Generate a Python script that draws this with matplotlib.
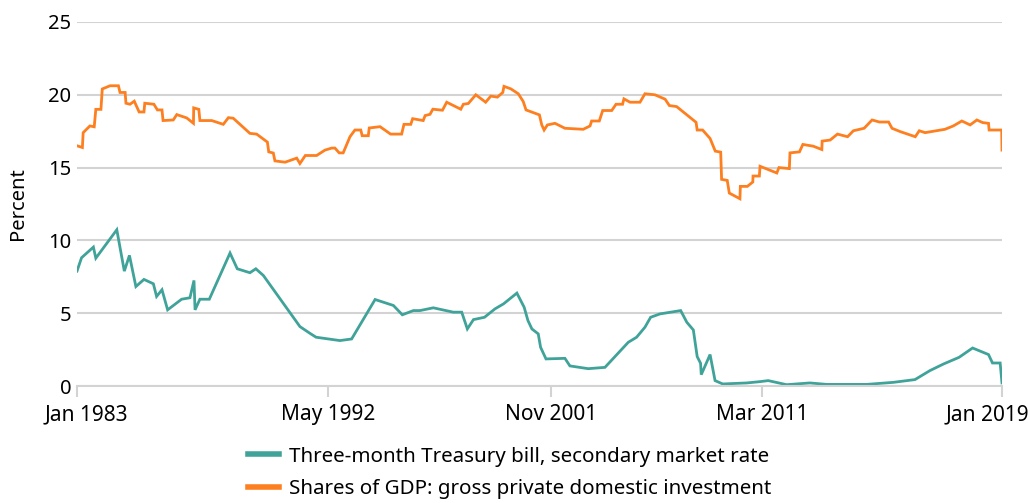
import numpy as np
import matplotlib.pyplot as plt
import matplotlib.transforms as mtransforms
from matplotlib.lines import Line2D

plt.rcParams['font.family'] = ['Noto Sans', 'DejaVu Sans']

# Shares of GDP: gross private domestic investment (decimal year, percent)
gdp_year = [1983.00, 1983.20, 1983.23, 1983.48, 1983.64, 1983.70, 1983.89, 1983.94,
            1984.23, 1984.54, 1984.60, 1984.79, 1984.82, 1984.97, 1985.13, 1985.31,
            1985.49, 1985.52, 1985.86, 1985.99, 1986.16, 1986.20, 1986.58, 1986.71,
            1987.08, 1987.33, 1987.34, 1987.53, 1987.57, 1988.01, 1988.44, 1988.63,
            1988.81, 1989.43, 1989.68, 1990.08, 1990.13, 1990.30, 1990.36, 1990.74,
            1991.17, 1991.29, 1991.49, 1991.91, 1992.22, 1992.49, 1992.63, 1992.81,
            1992.98, 1993.27, 1993.48, 1993.73, 1993.79, 1994.05, 1994.09, 1994.55,
            1995.00, 1995.47, 1995.57, 1995.86, 1995.94, 1996.39, 1996.47, 1996.68,
            1996.80, 1997.21, 1997.39, 1997.99, 1998.10, 1998.31, 1998.63, 1999.05,
            1999.27, 1999.55, 1999.78, 1999.83, 2000.12, 2000.44, 2000.65, 2000.77,
            2001.15, 2001.34, 2001.44, 2001.54, 2001.68, 2002.01, 2002.45, 2003.26,
            2003.56, 2003.63, 2003.97, 2004.12, 2004.52, 2004.71, 2005.00, 2005.06,
            2005.33, 2005.77, 2005.99, 2006.43, 2006.88, 2007.07, 2007.39, 2007.84,
            2008.25, 2008.30, 2008.54, 2008.87, 2009.10, 2009.34, 2009.38, 2009.63,
            2009.72, 2010.19, 2010.21, 2010.52, 2010.76, 2010.77, 2011.05, 2011.08,
            2011.65, 2011.72, 2012.06, 2012.08, 2012.39, 2012.50, 2012.84, 2013.12,
            2013.13, 2013.39, 2013.63, 2013.96, 2014.15, 2014.50, 2014.76, 2015.00,
            2015.30, 2015.41, 2015.68, 2016.17, 2016.30, 2016.49, 2017.14, 2017.41,
            2017.69, 2017.96, 2018.18, 2018.37, 2018.56, 2018.58, 2018.99, 2019.00]
gdp_val = [16.50, 16.38, 17.40, 17.86, 17.80, 19.00, 19.00, 20.40,
           20.62, 20.62, 20.16, 20.16, 19.42, 19.35, 19.56, 18.82,
           18.82, 19.42, 19.35, 18.96, 18.96, 18.23, 18.27, 18.64,
           18.41, 18.04, 19.10, 19.00, 18.23, 18.23, 17.97, 18.43,
           18.39, 17.35, 17.30, 16.75, 16.08, 16.00, 15.46, 15.37,
           15.65, 15.28, 15.83, 15.83, 16.20, 16.34, 16.34, 16.01,
           16.01, 17.12, 17.58, 17.58, 17.19, 17.19, 17.72, 17.81,
           17.30, 17.30, 17.97, 17.97, 18.36, 18.23, 18.57, 18.66,
           19.01, 18.94, 19.49, 19.01, 19.35, 19.40, 20.00, 19.49,
           19.91, 19.84, 20.16, 20.58, 20.41, 20.07, 19.54, 18.96,
           18.73, 18.62, 17.93, 17.58, 17.93, 18.04, 17.70, 17.63,
           17.86, 18.20, 18.20, 18.92, 18.92, 19.35, 19.35, 19.72,
           19.49, 19.49, 20.07, 20.00, 19.70, 19.26, 19.19, 18.62,
           18.11, 17.58, 17.58, 17.00, 16.13, 16.06, 14.19, 14.12,
           13.25, 12.86, 13.71, 13.71, 14.01, 14.42, 14.42, 15.09,
           14.63, 15.00, 14.93, 16.01, 16.08, 16.59, 16.47, 16.24,
           16.82, 16.89, 17.30, 17.12, 17.53, 17.70, 18.27, 18.13,
           18.13, 17.70, 17.47, 17.12, 17.53, 17.40, 17.63, 17.86,
           18.20, 17.93, 18.27, 18.09, 18.04, 17.58, 17.58, 16.20]

# Three-month Treasury bill, secondary market rate (decimal year, percent)
tbill_year = [1983.00, 1983.17, 1983.61, 1983.70, 1984.48, 1984.76, 1984.95, 1985.19,
              1985.49, 1985.84, 1985.96, 1986.16, 1986.37, 1986.89, 1987.20, 1987.35,
              1987.39, 1987.57, 1987.92, 1988.69, 1988.96, 1989.43, 1989.65, 1989.93,
              1991.29, 1991.66, 1991.89, 1992.84, 1993.34, 1994.34, 1995.12, 1995.50,
              1995.97, 1996.25, 1996.82, 1997.67, 1998.03, 1998.27, 1998.53, 1999.00,
              1999.45, 1999.81, 2000.38, 2000.69, 2000.85, 2001.02, 2001.29, 2001.39,
              2001.62, 2002.45, 2002.67, 2003.48, 2004.22, 2005.25, 2005.62, 2005.99,
              2006.24, 2006.65, 2007.57, 2007.84, 2008.13, 2008.30, 2008.45, 2008.48,
              2008.87, 2009.09, 2009.43, 2010.49, 2011.08, 2011.37, 2011.97, 2012.73,
              2013.28, 2014.58, 2015.45, 2016.16, 2016.65, 2017.09, 2017.60, 2018.04,
              2018.56, 2018.69, 2018.94, 2019.00]
tbill_val = [7.89, 8.81, 9.54, 8.78, 10.73, 7.89, 8.97, 6.83,
             7.32, 7.02, 6.15, 6.61, 5.23, 5.96, 6.06, 7.25,
             5.23, 5.96, 5.96, 9.13, 8.05, 7.78, 8.05, 7.59,
             4.08, 3.62, 3.35, 3.12, 3.23, 5.94, 5.53, 4.89,
             5.18, 5.18, 5.37, 5.07, 5.07, 3.92, 4.56, 4.72,
             5.30, 5.64, 6.38, 5.41, 4.50, 3.92, 3.58, 2.66,
             1.86, 1.90, 1.38, 1.19, 1.28, 3.00, 3.35, 4.04,
             4.72, 4.95, 5.18, 4.38, 3.85, 2.02, 1.56, 0.78,
             2.16, 0.37, 0.14, 0.21, 0.30, 0.37, 0.09, 0.21,
             0.11, 0.11, 0.25, 0.44, 1.06, 1.51, 1.97, 2.61,
             2.16, 1.58, 1.58, 0.21]

tick_years = [1983.0, 1992 + 4/12, 2001 + 10/12, 2011 + 2/12, 2019.0]
tick_labels = ['Jan 1983', 'May 1992', 'Nov 2001', 'Mar 2011', 'Jan 2019']
# the source axis is not linear in time; these are the tick spacings it uses
tick_spots = [0, 251, 474, 685, 925]

teal = '#40a399'
orange = '#fd7f1f'

fig = plt.figure(figsize=(10.28, 5.03), dpi=100)
ax = fig.add_axes([0.0749, 0.2326, 0.8998, 0.7237])

fwd = lambda x: np.interp(x, tick_years, tick_spots)
inv = lambda p: np.interp(p, tick_spots, tick_years)
ax.set_xscale('function', functions=(fwd, inv))

ax.plot(tbill_year, tbill_val, color=teal, lw=2.0, solid_joinstyle='miter')
ax.plot(gdp_year, gdp_val, color=orange, lw=2.0, solid_joinstyle='miter')

ax.set_xlim(tick_years[0], tick_years[-1])
ax.set_ylim(0, 25)
ax.set_yticks([0, 5, 10, 15, 20, 25])
ax.set_xticks(tick_years)
ax.set_xticklabels(tick_labels)
ax.yaxis.grid(True, color='#d3d3d3', lw=1.5)
ax.set_axisbelow(True)
for s in ['top', 'right', 'left']:
    ax.spines[s].set_visible(False)
ax.spines['bottom'].set_color('#d3d3d3')
ax.spines['bottom'].set_linewidth(1.5)
ax.tick_params(axis='x', length=8, width=1.5, color='#d3d3d3', labelsize=15, pad=5)
ax.tick_params(axis='y', length=0, labelsize=14.5, pad=4)
ax.set_ylabel('Percent', fontsize=14.5)
ax.yaxis.set_label_coords(-0.053, 0.5)

# keep the end labels inside the figure, as the original does
labs = ax.get_xticklabels()
labs[0].set_transform(labs[0].get_transform() +
                      mtransforms.ScaledTranslation(0.09, 0, fig.dpi_scale_trans))
labs[-1].set_transform(labs[-1].get_transform() +
                       mtransforms.ScaledTranslation(-0.15, 0, fig.dpi_scale_trans))

handles = [Line2D([], [], color=teal, lw=4),
           Line2D([], [], color=orange, lw=4)]
fig.legend(handles, ['Three-month Treasury bill, secondary market rate',
                     'Shares of GDP: gross private domestic investment'],
           loc='upper left', bbox_to_anchor=(0.241, 0.112), frameon=False,
           fontsize=14.8, handlelength=1.5, handletextpad=0.5, labelspacing=0.6,
           borderaxespad=0, borderpad=0)

fig.savefig('out.png', dpi=100)
